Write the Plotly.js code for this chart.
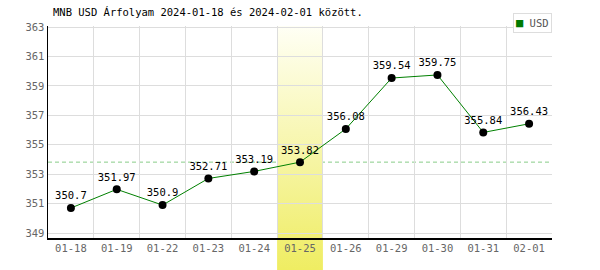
<!DOCTYPE html>
<html>
<head>
<meta charset="utf-8">
<script src="https://cdn.plot.ly/plotly-3.0.1.min.js"></script>
<style>html,body{margin:0;padding:0;background:#fff;}#chart{width:600px;height:270px;}</style>
</head>
<body>
<div id="chart"></div>
<script>
// ---- data ----
const dates = ["01-18","01-19","01-22","01-23","01-24","01-25","01-26","01-29","01-30","01-31","02-01"];
const usdRates = [350.7, 351.97, 350.9, 352.71, 353.19, 353.82, 356.08, 359.54, 359.75, 355.84, 356.43];
const seriesName = "USD";
const highlightIndex = 5; // 01-25
const yTickVals = [349, 351, 353, 355, 357, 359, 361, 363];

// ---- build ----
const xIdx = dates.map((d, i) => i);
const yRange = [348.66, 363.08];
const fontMono = "DejaVu Sans Mono";

function gradientSvg(c0, c1) {
  const svg = "<svg xmlns='http://www.w3.org/2000/svg' width='10' height='100' viewBox='0 0 10 100' preserveAspectRatio='none'>" +
    "<defs><linearGradient id='g' x1='0' y1='0' x2='0' y2='1'>" +
    "<stop offset='0' stop-color='" + c0 + "'/><stop offset='1' stop-color='" + c1 + "'/>" +
    "</linearGradient></defs><rect width='10' height='100' fill='url(#g)'/></svg>";
  return "data:image/svg+xml;charset=utf-8," + encodeURIComponent(svg);
}

const mainTrace = {
  x: xIdx,
  y: usdRates,
  type: "scatter",
  mode: "lines+markers+text",
  name: seriesName,
  showlegend: false,
  line: {color: "#008000", width: 1},
  marker: {color: "#000000", size: 8},
  text: usdRates.map(v => String(v)),
  textposition: "top center",
  textfont: {family: fontMono, size: 10.5, color: "#000"},
  cliponaxis: false,
  hoverinfo: "x+y"
};

const layout = {
  width: 600, height: 270,
  margin: {l: 48, r: 48, t: 26, b: 32, pad: 0},
  paper_bgcolor: "#ffffff",
  plot_bgcolor: "rgba(0,0,0,0)",
  showlegend: false,
  title: {
    text: "MNB USD Árfolyam 2024-01-18 és 2024-02-01 között.",
    xref: "container", x: 53/600, xanchor: "left",
    yref: "container", y: 1 - 9/270, yanchor: "top",
    font: {family: fontMono, size: 10.5, color: "#000"}
  },
  xaxis: {
    range: [-0.5, dates.length - 0.5],
    tickmode: "array",
    tickvals: xIdx,
    ticktext: dates,
    showgrid: false,
    zeroline: false,
    showline: true, linecolor: "#000", linewidth: 1.5,
    ticks: "",
    tickfont: {family: fontMono, size: 10.5, color: "#666"},
    minor: {tickmode: "linear", tick0: -0.5, dtick: 1, showgrid: true, gridcolor: "#dddddd", gridwidth: 1, ticks: ""},
    fixedrange: true
  },
  yaxis: {
    range: yRange,
    tickmode: "array",
    tickvals: yTickVals,
    ticktext: yTickVals.map(String),
    showgrid: true, gridcolor: "#dddddd", gridwidth: 1,
    zeroline: false,
    showline: true, linecolor: "#000", linewidth: 1.5,
    ticks: "",
    tickfont: {family: fontMono, size: 10.5, color: "#666"},
    fixedrange: true
  },
  annotations: [{
    xref: "paper", x: 1, xanchor: "right",
    yref: "paper", y: 1 + 13/212, yanchor: "top",
    text: "<span style='color:#007a00;font-size:12px'>■</span> " + seriesName,
    showarrow: false,
    bgcolor: "#ffffff",
    bordercolor: "#dddddd", borderwidth: 1, borderpad: 2,
    font: {family: fontMono, size: 10.5, color: "#555"}
  }],
  shapes: [{
    type: "line", xref: "paper", x0: 0, x1: 1,
    yref: "y", y0: usdRates[highlightIndex], y1: usdRates[highlightIndex],
    line: {color: "#88cc88", width: 1, dash: "4px,3px"},
    layer: "between"
  }],
  images: [
    {
      source: gradientSvg("#fffff5", "#f1ef75"),
      xref: "x", yref: "y",
      x: highlightIndex - 0.5, sizex: 1,
      y: yRange[1], sizey: yRange[1] - yRange[0],
      xanchor: "left", yanchor: "top",
      sizing: "stretch", layer: "below"
    },
    {
      source: gradientSvg("#f1ef75", "#efed62"),
      xref: "x", yref: "paper",
      x: highlightIndex - 0.5, sizex: 1,
      y: 0, sizey: 32/212,
      xanchor: "left", yanchor: "top",
      sizing: "stretch", layer: "below"
    }
  ]
};

Plotly.newPlot("chart", [mainTrace], layout, {displayModeBar: false, staticPlot: true});
</script>
</body>
</html>
